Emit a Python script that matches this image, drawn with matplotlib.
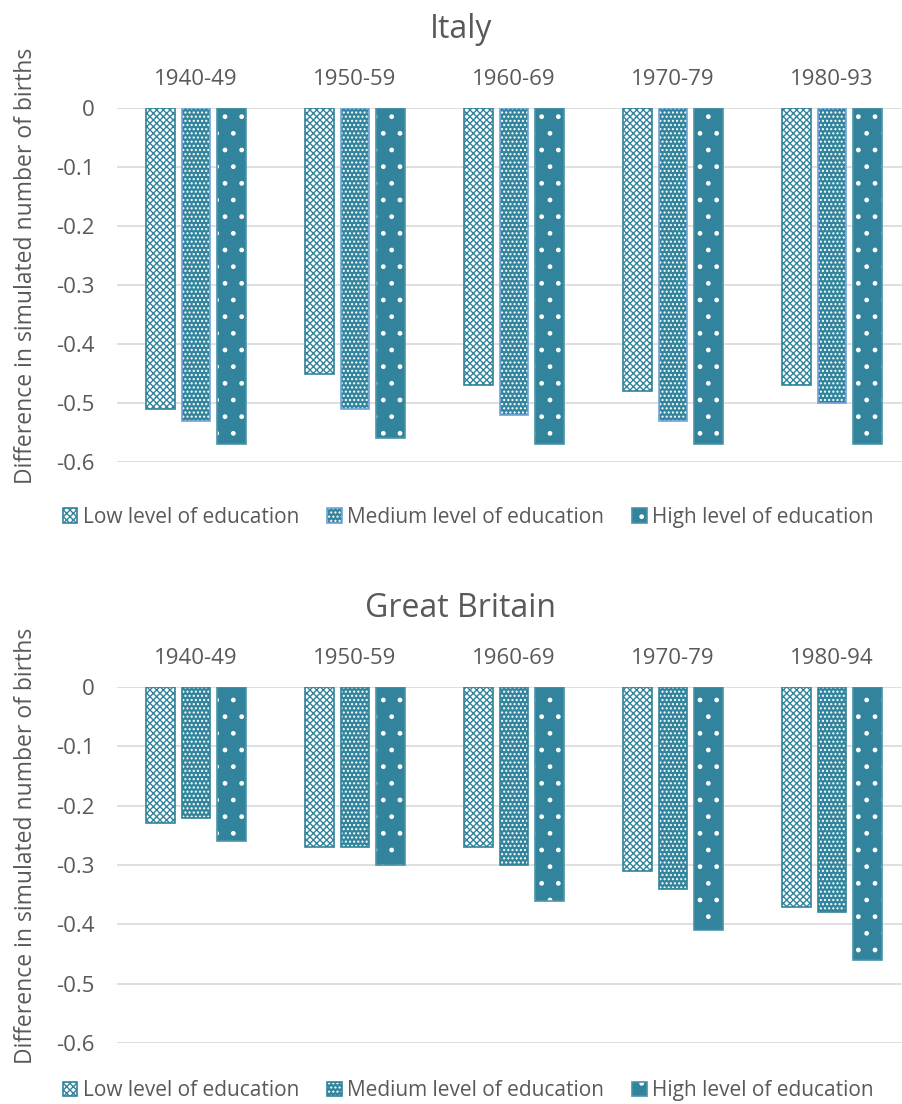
import matplotlib
matplotlib.use("Agg")
import matplotlib.pyplot as plt
import matplotlib.patches as patches
import numpy as np

plt.rcParams['font.family'] = ['Open Sans', 'DejaVu Sans']
plt.rcParams['hatch.linewidth'] = 1.0

# Datos: diferencia en el número simulado de nacimientos
series = ['Low level of education', 'Medium level of education', 'High level of education']

italia_cohortes = ['1940-49', '1950-59', '1960-69', '1970-79', '1980-93']
italia_baja = [-0.51, -0.45, -0.47, -0.48, -0.47]
italia_media = [-0.53, -0.51, -0.52, -0.53, -0.50]
italia_alta = [-0.57, -0.56, -0.57, -0.57, -0.57]

gb_cohortes = ['1940-49', '1950-59', '1960-69', '1970-79', '1980-94']
gb_baja = [-0.23, -0.27, -0.27, -0.31, -0.37]
gb_media = [-0.22, -0.27, -0.30, -0.34, -0.38]
gb_alta = [-0.26, -0.30, -0.36, -0.41, -0.46]

y_ticks = [0, -0.1, -0.2, -0.3, -0.4, -0.5, -0.6]

TEAL = '#31849B'
GRIS = '#595959'

# estilo de cada serie: (relleno, color del patrón, trama)
estilos = [
    ('white', TEAL, 'xxxxx'),
    (TEAL, 'white', '....'),
    (TEAL, 'white', '.'),
]


def barras(ax, x, valores, estilo, borde):
    relleno, color_trama, trama = estilo
    ax.bar(x, valores, width=0.18, color=relleno, edgecolor=color_trama,
           hatch=trama, linewidth=0, zorder=2)
    ax.bar(x, valores, width=0.18, fill=False, edgecolor=borde,
           linewidth=1.2, zorder=3)


def panel(fig, pos, titulo, cohortes, datos, bordes, y_leyenda):
    ax = fig.add_axes(pos)
    x = np.arange(len(cohortes))
    for i, (valores, estilo, borde) in enumerate(zip(datos, estilos, bordes)):
        barras(ax, x + (i - 1) * 0.222, valores, estilo, borde)

    ax.set_xlim(-0.5, 4.44)
    ax.set_ylim(-0.6, 0)
    ax.set_yticks(y_ticks)
    ax.set_yticklabels(['0', '-0.1', '-0.2', '-0.3', '-0.4', '-0.5', '-0.6'])
    ax.xaxis.tick_top()
    ax.set_xticks(x)
    ax.set_xticklabels(cohortes)
    ax.tick_params(axis='both', length=0, labelsize=16, colors=GRIS)
    ax.tick_params(axis='x', pad=13)
    ax.tick_params(axis='y', pad=16)
    ax.grid(axis='y', color='#D9D9D9', linewidth=1.2, zorder=0)
    for s in ax.spines.values():
        s.set_visible(False)
    ax.set_ylabel('Difference in simulated number of births', fontsize=16.5,
                  color=GRIS)
    ax.yaxis.set_label_coords(-0.1, 0.555)

    top = pos[1] + pos[3]
    fig.text(0.511, top + 0.0715, titulo, ha='center', va='center',
             fontsize=23, color=GRIS)

    handles = []
    for estilo, borde in zip(estilos, bordes):
        relleno, color_trama, trama = estilo
        fondo = patches.Patch(facecolor=relleno, edgecolor=color_trama,
                              hatch=trama, linewidth=0)
        marco = patches.Patch(fill=False, edgecolor=borde, linewidth=1.2)
        handles.append((fondo, marco))
    fig.legend(handles, series, loc='center', ncol=3, frameon=False,
               bbox_to_anchor=(0.519, y_leyenda), fontsize=15,
               labelcolor=GRIS, handlelength=0.7, handleheight=0.7,
               handletextpad=0.25, columnspacing=1.35)
    return ax


fig = plt.figure(figsize=(9.02, 11.04), dpi=100)

panel(fig, [0.1292, 0.5815, 0.8708, 0.3207], 'Italy', italia_cohortes,
      [italia_baja, italia_media, italia_alta], [TEAL, '#6FA3D8', '#4A93A8'], 0.5317)
panel(fig, [0.1292, 0.0553, 0.8708, 0.3224], 'Great Britain', gb_cohortes,
      [gb_baja, gb_media, gb_alta], [TEAL, TEAL, '#4A93A8'], 0.0118)

fig.savefig('out.png', dpi=100)
